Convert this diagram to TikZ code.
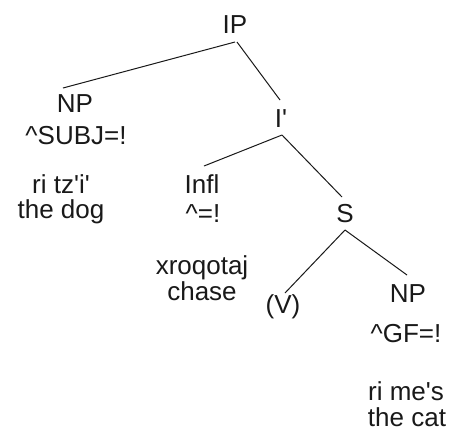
\documentclass[tikz,border=0pt]{standalone}
\usepackage{fontspec}
\setmainfont{Liberation Sans}
\usetikzlibrary{calc}
\tikzset{
  lbl/.style={anchor=base, inner sep=0pt, font=\fontsize{26}{30}\selectfont, text=black!90},
  edge/.style={line width=1pt, black!90}
}
\begin{document}
\begin{tikzpicture}[x=1pt,y=-1pt]
\useasboundingbox[fill=white] (0,0) rectangle (453,432);
\node[lbl] (ip) at (235,33) {IP};
\node[lbl] (np) at (75,112) {NP};
\node[lbl] (npf) at (76,144) {\textasciicircum SUBJ=!};
\node[lbl] (dog1) at (61,193) {ri tz\textquotesingle i\textquotesingle};
\node[lbl] (dog2) at (61,218) {the dog};
\node[lbl] (ib) at (281,127) {I\textquotesingle};
\node[lbl] (infl) at (202,193) {Infl};
\node[lbl] (inflf) at (203,222) {\textasciicircum=!};
\node[lbl] (s) at (345,222) {S};
\node[lbl] (ch1) at (202,274) {xroqotaj};
\node[lbl] (ch2) at (202,300) {chase};
\node[lbl] (v) at (283,313) {(V)};
\node[lbl] (np2) at (408,302) {NP};
\node[lbl] (np2f) at (406,342) {\textasciicircum GF=!};
\node[lbl] (cat1) at (406,400) {ri me\textquotesingle s};
\node[lbl] (cat2) at (407,426) {the cat};
\draw[edge] ($(ip.base)+(0,9)$) -- ($(np.base)+(-12,-24)$);
\draw[edge] ($(ip.base)+(2,9)$) -- ($(ib.base)+(-1,-27)$);
\draw[edge] ($(ib.base)+(1,8)$) -- ($(infl.base)+(2,-27)$);
\draw[edge] ($(ib.base)+(1,8)$) -- ($(s.base)+(-3,-25)$);
\draw[edge] ($(s.base)+(0,8)$) -- ($(v.base)+(2,-20)$);
\draw[edge] ($(s.base)+(0,8)$) -- ($(np2.base)+(-1,-27)$);
\end{tikzpicture}
\end{document}
